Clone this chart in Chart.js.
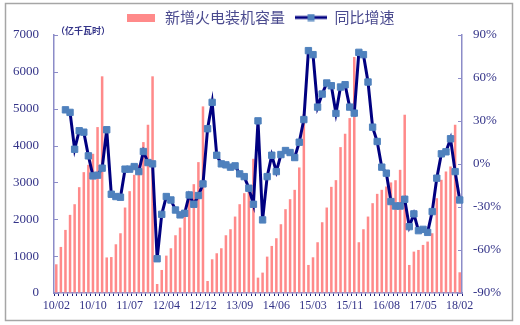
<!DOCTYPE html>
<html>
<head>
<meta charset="utf-8">
<script src="https://cdn.jsdelivr.net/npm/chart.js@4.4.1/dist/chart.umd.min.js"></script>
<style>
html, body { margin: 0; padding: 0; background: #fff; }
#wrap { width: 520px; height: 325px; }
</style>
</head>
<body>
<div id="wrap"><canvas id="chart" width="520" height="325"></canvas></div>
<script>
// Категорії: місяці з 2010/02 по 2018/02 (січень у даних відсутній)
const years = ['10', '11', '12', '13', '14', '15', '16', '17'];
const months = ['02', '03', '04', '05', '06', '07', '08', '09', '10', '11', '12'];
const categories = [];
years.forEach(y => months.forEach(m => categories.push(y + '/' + m)));
categories.push('18/02');

// Підписи осі X (кожна 8-ма категорія)
const xTickLabels = ['10/02', '10/10', '11/07', '12/04', '12/12', '13/09',
    '14/06', '15/03', '15/11', '16/08', '17/05', '18/02'];

// Новий приріст потужностей (万千瓦), накопичено з початку року
const capacity = [
    779, 1250, 1712, 2120, 2409, 2871, 3279, 3478, 3777, 4502, 5879,   // 2010
    965, 975, 1322, 1621, 2319, 2763, 3207, 3478, 4094, 4565, 5879,    // 2011
    245, 625, 1014, 1214, 1567, 1775, 2120, 2708, 2953, 3551, 5063,    // 2012
    326, 915, 1078, 1214, 1567, 1730, 2074, 2409, 2708, 2900, 3641,    // 2013
    417, 553, 987, 1277, 1486, 1866, 2274, 2545, 2799, 3406, 4850,     // 2014
    761, 969, 1377, 1920, 2319, 2880, 3062, 3958, 4321, 4746, 6404,    // 2015
    1377, 1730, 2074, 2437, 2690, 2800, 2890, 3000, 3060, 3342, 4837,  // 2016
    761, 1123, 1168, 1304, 1395, 1621, 2572, 3071, 3297, 3433, 4565,   // 2017
    562                                                                 // 2018
];

// Темп зростання рік до року, %
const growth = [
    null, null, 37.8, 36.0, 10.3, 23.2, 22.2, 5.7, -8.3, -7.8, -2.9,           // 2010
    23.9, -21.1, -22.7, -23.2, -3.6, -3.6, -1.8, -5.3, 8.7, 1.0, 0.1,          // 2011
    -66.1, -35.1, -22.7, -25.1, -32.1, -35.5, -34.4, -21.6, -28.1, -22.0, -13.9, // 2012
    24.6, 43.0, 6.1, 0.1, -0.6, -2.2, -1.3, -6.9, -8.8, -16.9, -28.1,          // 2013
    30.1, -39.0, -8.8, 6.1, -5.3, 6.6, 9.4, 8.0, 4.5, 15.2, 31.0,              // 2014
    79.1, 76.3, 39.7, 48.8, 56.5, 54.6, 35.3, 53.7, 55.3, 39.7, 35.5,          // 2015
    77.9, 76.3, 57.2, 25.7, 15.7, -2.2, -6.4, -26.2, -29.3, -29.3, -24.6,      // 2016
    -43.7, -34.8, -46.5, -45.6, -47.7, -33.2, -9.9, 7.1, 8.5, 17.6, -5.3,      // 2017
    -25.1                                                                       // 2018
];

// Кольори
const barColor = '#ff8a8a';
const lineColor = '#000080';
const markerColor = '#4f81bd';
const axisColor = '#8c8cc8';
const textColor = '#333388';

// Іконки легенди
function makeIcon(w, h, draw) {
    const c = document.createElement('canvas');
    c.width = w; c.height = h;
    draw(c.getContext('2d'));
    return c;
}
const barIcon = makeIcon(28, 8, ctx => {
    ctx.fillStyle = barColor;
    ctx.fillRect(0, 0, 28, 8);
});
const lineIcon = makeIcon(32, 8, ctx => {
    ctx.strokeStyle = lineColor;
    ctx.lineWidth = 3;
    ctx.beginPath(); ctx.moveTo(0, 4); ctx.lineTo(32, 4); ctx.stroke();
    ctx.fillStyle = markerColor;
    ctx.fillRect(12.5, 0.5, 7, 7);
});

// Рамка, підпис одиниць та внутрішні засічки на осях Y
const decorPlugin = {
    id: 'decor',
    beforeDraw(chart) {
        const ctx = chart.ctx;
        ctx.save();
        ctx.fillStyle = '#fff';
        ctx.fillRect(0, 0, chart.width, chart.height);
        ctx.strokeStyle = '#a6a6a6';
        ctx.lineWidth = 1.5;
        ctx.strokeRect(5.5, 3.5, 507, 317);
        ctx.restore();
    },
    afterDraw(chart) {
        const ctx = chart.ctx;
        const y = chart.scales.y, y1 = chart.scales.y1;
        ctx.save();
        ctx.strokeStyle = axisColor;
        ctx.lineWidth = 1;
        ctx.beginPath();
        y.ticks.forEach(t => {
            const py = Math.round(y.getPixelForValue(t.value)) + 0.5;
            ctx.moveTo(y.right, py); ctx.lineTo(y.right + 4, py);
        });
        y1.ticks.forEach(t => {
            const py = Math.round(y1.getPixelForValue(t.value)) + 0.5;
            ctx.moveTo(y1.left, py); ctx.lineTo(y1.left - 4, py);
        });
        ctx.stroke();
        ctx.fillStyle = textColor;
        ctx.font = 'bold 9px "Noto Sans CJK SC"';
        ctx.textBaseline = 'middle';
        ctx.fillText('（亿千瓦时）', 56, 31);
        ctx.restore();
    }
};

new Chart(document.getElementById('chart'), {
    data: {
        labels: categories,
        datasets: [{
            type: 'line',
            label: '同比增速',
            data: growth,
            yAxisID: 'y1',
            order: 0,
            borderColor: lineColor,
            borderWidth: 3,
            tension: 0,
            pointStyle: 'rect',
            pointRadius: 4.5,
            pointBackgroundColor: markerColor,
            pointBorderColor: markerColor,
            pointBorderWidth: 1
        }, {
            type: 'bar',
            label: '新增火电装机容量',
            data: capacity,
            yAxisID: 'y',
            order: 1,
            backgroundColor: barColor,
            barPercentage: 0.55,
            categoryPercentage: 1
        }]
    },
    options: {
        responsive: false,
        animation: false,
        devicePixelRatio: 1,
        layout: { padding: 0 },
        plugins: {
            tooltip: { enabled: false },
            legend: {
                position: 'top',
                labels: {
                    usePointStyle: true,
                    pointStyleWidth: 32,
                    padding: 10,
                    color: '#4b4b8f',
                    font: { size: 15, family: '"Noto Sans CJK SC"' },
                    generateLabels: () => [
                        { text: '新增火电装机容量', pointStyle: barIcon, datasetIndex: 1, fontColor: '#4b4b8f' },
                        { text: '同比增速', pointStyle: lineIcon, datasetIndex: 0, fontColor: '#4b4b8f' }
                    ]
                }
            }
        },
        scales: {
            x: {
                offset: true,
                grid: { offset: true, drawOnChartArea: false, drawTicks: true, tickLength: 3, color: '#1f1f7a' },
                border: { color: axisColor, width: 1.5 },
                ticks: {
                    autoSkip: false,
                    maxRotation: 0,
                    minRotation: 0,
                    padding: 3,
                    color: textColor,
                    font: { family: '"Liberation Serif"', size: 12 },
                    callback: (v, i) => xTickLabels.includes(categories[i]) && i % 8 === 0 ? categories[i] : ''
                },
                afterFit: s => { s.height = 32; }
            },
            y: {
                position: 'left',
                min: 0,
                max: 7000,
                grid: { drawOnChartArea: false, drawTicks: false },
                border: { color: axisColor, width: 1.5 },
                ticks: {
                    stepSize: 1000,
                    padding: 15,
                    color: textColor,
                    font: { family: '"Liberation Serif"', size: 13 },
                    callback: v => String(v)
                },
                afterFit: s => { s.width = 54; }
            },
            y1: {
                position: 'right',
                min: -90,
                max: 90,
                grid: { drawOnChartArea: false, drawTicks: false },
                border: { color: axisColor, width: 1.5 },
                ticks: {
                    stepSize: 30,
                    padding: 11,
                    color: textColor,
                    font: { family: '"Liberation Serif"', size: 13 },
                    callback: v => v + '%'
                },
                afterFit: s => { s.width = 58; }
            }
        }
    },
    plugins: [decorPlugin]
});
</script>
</body>
</html>
